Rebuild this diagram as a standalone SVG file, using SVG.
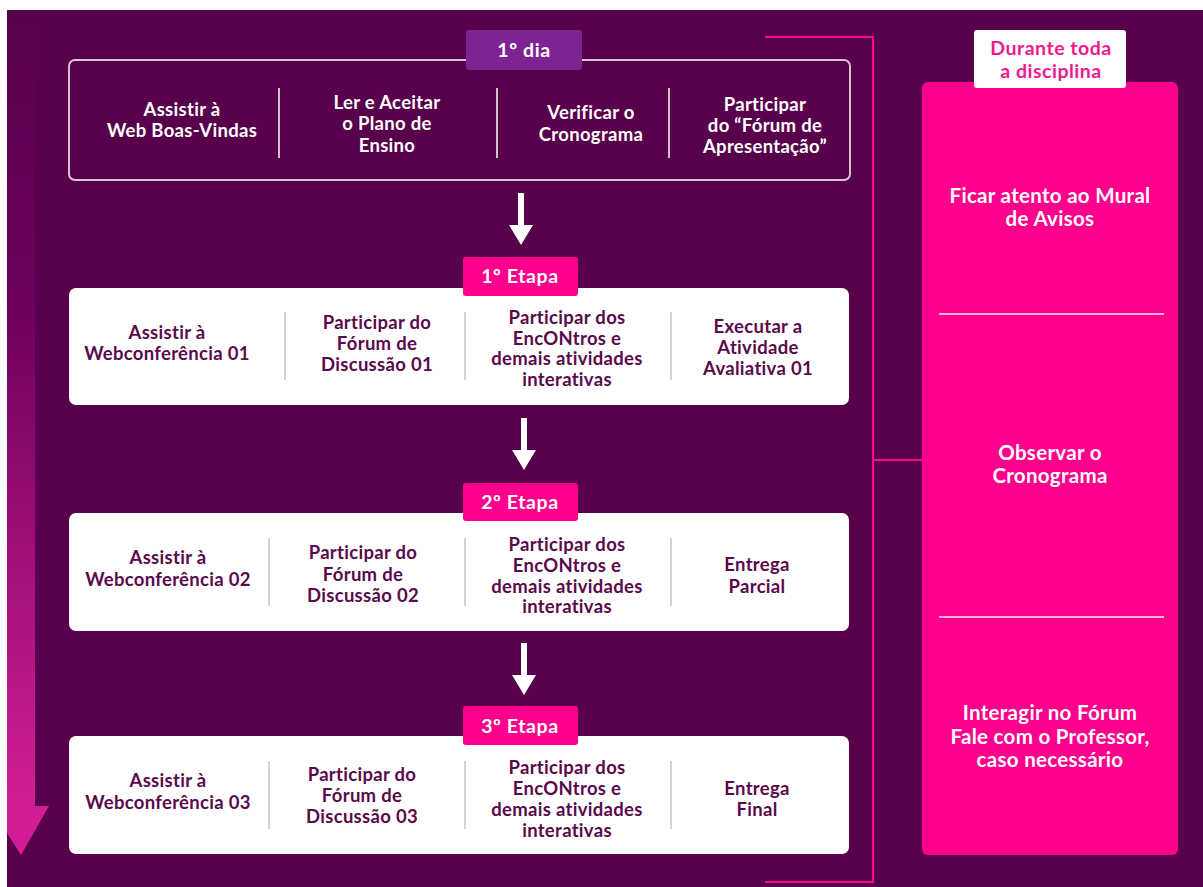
<svg xmlns="http://www.w3.org/2000/svg" width="1203" height="887" viewBox="0 0 1203 887">
<defs>
<linearGradient id="lg" x1="0" y1="0" x2="0" y2="1">
<stop offset="0" stop-color="#58004b"/>
<stop offset="0.35" stop-color="#6a005a"/>
<stop offset="1" stop-color="#d21e96"/>
</linearGradient>
</defs>
<style>
.bg{fill:#58004b}
.t{font-family:Lato,"Open Sans","DejaVu Sans",sans-serif;font-weight:700;font-size:18.5px;letter-spacing:0.3px;text-anchor:middle}
.w{fill:#ffffff}
.d{fill:#5a0a4c}
.p{fill:#ef1a8c}
.card{fill:#ffffff}
.dv{stroke:#d8d0d6;stroke-width:2}
.dvt{stroke:#cfc3cd;stroke-width:2}
.tab{font-size:19.5px;letter-spacing:0.6px}
.rp{font-size:20.5px;letter-spacing:0.3px}
.hd{font-size:19.5px;letter-spacing:0.5px}
.arr{fill:#ffffff}
.br{fill:none;stroke:#ff0a8c;stroke-width:2}
</style>
<rect x="0" y="0" width="1203" height="887" fill="#ffffff"/>
<rect class="bg" x="7" y="10" width="1196" height="877"/>
<g id="timeline-arrow">
<rect x="7" y="10" width="28" height="800" fill="url(#lg)"/>
<polygon points="7,806 49,806 21,855 7,833" fill="#d21e96"/>
</g>
<g id="connectors">
<path class="br" d="M765,37 H873 V882 H765"/>
<path class="br" d="M873,460 H922"/>
<polygon class="arr" points="518,193 524,193 524,225 533,225 521,245 509,225 518,225"/>
<polygon class="arr" points="521,418 527,418 527,450 536,450 524,470 512,450 521,450"/>
<polygon class="arr" points="521,643 527,643 527,675 536,675 524,695 512,675 521,675"/>
</g>
<g id="day1">
<rect x="69" y="60" width="781" height="120" rx="6" fill="none" stroke="#d3c6d1" stroke-width="2"/>
<line class="dvt" x1="279" y1="88" x2="279" y2="158"/>
<line class="dvt" x1="497" y1="88" x2="497" y2="158"/>
<line class="dvt" x1="669" y1="88" x2="669" y2="158"/>
<rect x="466" y="30" width="116" height="40" rx="3" fill="#7d2392"/>
<text class="t w tab" x="524" y="57">1º dia</text>
<text class="t w"><tspan x="182" y="116">Assistir à</tspan><tspan x="182" y="137">Web Boas-Vindas</tspan></text>
<text class="t w"><tspan x="387" y="109">Ler e Aceitar</tspan><tspan x="387" y="130">o Plano de</tspan><tspan x="387" y="152">Ensino</tspan></text>
<text class="t w"><tspan x="591" y="119">Verificar o</tspan><tspan x="591" y="141">Cronograma</tspan></text>
<text class="t w"><tspan x="765" y="111">Participar</tspan><tspan x="765" y="132">do “Fórum de</tspan><tspan x="765" y="153">Apresentação”</tspan></text>
</g>
<g id="etapa1">
<rect class="card" x="69" y="288" width="780" height="117" rx="7"/>
<line class="dv" x1="285" y1="312" x2="285" y2="380"/>
<line class="dv" x1="465" y1="312" x2="465" y2="380"/>
<line class="dv" x1="671" y1="312" x2="671" y2="380"/>
<rect x="463" y="257" width="115" height="39" rx="3" fill="#ff008c"/>
<text class="t w tab" x="520" y="283">1º Etapa</text>
<text class="t d"><tspan x="167" y="339">Assistir à</tspan><tspan x="167" y="360">Webconferência 01</tspan></text>
<text class="t d"><tspan x="377" y="329">Participar do</tspan><tspan x="377" y="350">Fórum de</tspan><tspan x="377" y="371">Discussão 01</tspan></text>
<text class="t d"><tspan x="567" y="324">Participar dos</tspan><tspan x="567" y="345">EncONtros e</tspan><tspan x="567" y="365">demais atividades</tspan><tspan x="567" y="386">interativas</tspan></text>
<text class="t d"><tspan x="758" y="333">Executar a</tspan><tspan x="758" y="354">Atividade</tspan><tspan x="758" y="375">Avaliativa 01</tspan></text>
</g>
<g id="etapa2">
<rect class="card" x="69" y="513" width="780" height="118" rx="7"/>
<line class="dv" x1="269" y1="538" x2="269" y2="606"/>
<line class="dv" x1="465" y1="538" x2="465" y2="606"/>
<line class="dv" x1="671" y1="538" x2="671" y2="606"/>
<rect x="463" y="483" width="115" height="38" rx="3" fill="#ff008c"/>
<text class="t w tab" x="520" y="509">2º Etapa</text>
<text class="t d"><tspan x="168" y="564">Assistir à</tspan><tspan x="168" y="586">Webconferência 02</tspan></text>
<text class="t d"><tspan x="363" y="559">Participar do</tspan><tspan x="363" y="581">Fórum de</tspan><tspan x="363" y="602">Discussão 02</tspan></text>
<text class="t d"><tspan x="567" y="551">Participar dos</tspan><tspan x="567" y="572">EncONtros e</tspan><tspan x="567" y="593">demais atividades</tspan><tspan x="567" y="613">interativas</tspan></text>
<text class="t d"><tspan x="757" y="571">Entrega</tspan><tspan x="757" y="593">Parcial</tspan></text>
</g>
<g id="etapa3">
<rect class="card" x="69" y="736" width="780" height="118" rx="7"/>
<line class="dv" x1="269" y1="761" x2="269" y2="829"/>
<line class="dv" x1="465" y1="761" x2="465" y2="829"/>
<line class="dv" x1="671" y1="761" x2="671" y2="829"/>
<rect x="463" y="706" width="115" height="39" rx="3" fill="#ff008c"/>
<text class="t w tab" x="520" y="733">3º Etapa</text>
<text class="t d"><tspan x="168" y="787">Assistir à</tspan><tspan x="168" y="809">Webconferência 03</tspan></text>
<text class="t d"><tspan x="362" y="781">Participar do</tspan><tspan x="362" y="802">Fórum de</tspan><tspan x="362" y="823">Discussão 03</tspan></text>
<text class="t d"><tspan x="567" y="774">Participar dos</tspan><tspan x="567" y="795">EncONtros e</tspan><tspan x="567" y="816">demais atividades</tspan><tspan x="567" y="837">interativas</tspan></text>
<text class="t d"><tspan x="757" y="795">Entrega</tspan><tspan x="757" y="816">Final</tspan></text>
</g>
<g id="during">
<rect x="922" y="82" width="256" height="773" rx="6" fill="#ff008c"/>
<line x1="939" y1="314" x2="1164" y2="314" stroke="#ffb3d8" stroke-width="2"/>
<line x1="939" y1="617" x2="1164" y2="617" stroke="#ffb3d8" stroke-width="2"/>
<rect x="974" y="30" width="152" height="58" rx="3" fill="#ffffff"/>
<text class="t p hd"><tspan x="1051" y="55">Durante toda</tspan><tspan x="1051" y="78">a disciplina</tspan></text>
<text class="t w rp"><tspan x="1050" y="203">Ficar atento ao Mural</tspan><tspan x="1050" y="226">de Avisos</tspan></text>
<text class="t w rp"><tspan x="1050" y="460">Observar o</tspan><tspan x="1050" y="483">Cronograma</tspan></text>
<text class="t w rp"><tspan x="1050" y="720">Interagir no Fórum</tspan><tspan x="1050" y="744">Fale com o Professor,</tspan><tspan x="1050" y="767">caso necessário</tspan></text>
</g>
</svg>
